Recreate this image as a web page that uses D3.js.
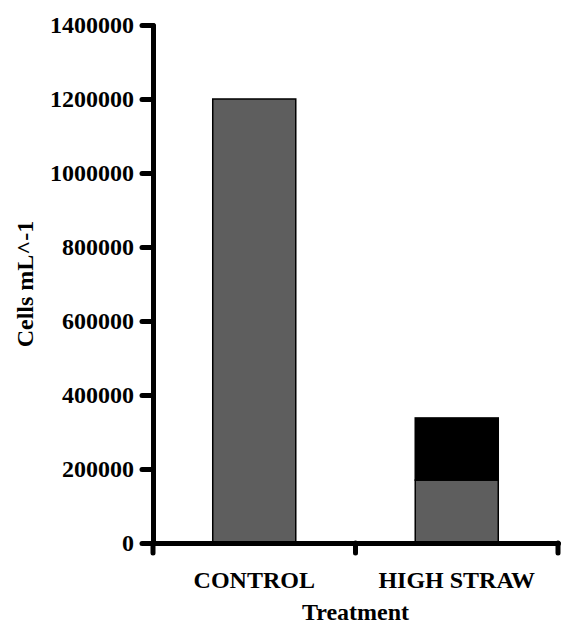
<!DOCTYPE html>
<html>
<head>
<meta charset="utf-8">
<script src="https://cdn.jsdelivr.net/npm/d3@7"></script>
<style>
  html, body { margin: 0; padding: 0; background: #fff; }
  svg { display: block; }
  text { font-family: "Liberation Serif", "Times New Roman", serif; font-weight: bold; fill: #000; }
</style>
</head>
<body>
<svg id="chart" width="563" height="631"></svg>
<script>
// Cell counts per treatment, stacked in two parts
const categories = ["CONTROL", "HIGH STRAW"];
const lowerSegment = [1200000, 170000];
const upperSegment = [0, 168000];
const yTicks = [0, 200000, 400000, 600000, 800000, 1000000, 1200000, 1400000];
const yTitle = "Cells mL^-1";
const xTitle = "Treatment";

const svg = d3.select("#chart");
const plotLeft = 153, plotRight = 558, plotTop = 25, plotBottom = 543;

const x = d3.scaleBand().domain(categories).range([plotLeft, plotRight])
  .paddingInner(0.59).paddingOuter(0.295);
const y = d3.scaleLinear().domain([0, 1400000]).range([plotBottom, plotTop]);

const rows = categories.map((c, i) => ({ cat: c, lower: lowerSegment[i], upper: upperSegment[i] }));
const stack = d3.stack().keys(["lower", "upper"]);
const layers = stack(rows);
const fills = { lower: "#5e5e5e", upper: "#000000" };

svg.append("g").selectAll("g").data(layers).join("g")
  .attr("fill", d => fills[d.key])
  .selectAll("rect").data(d => d.filter(p => p[1] > p[0])).join("rect")
    .attr("x", d => x(d.data.cat))
    .attr("width", x.bandwidth())
    .attr("y", d => y(d[1]))
    .attr("height", d => y(d[0]) - y(d[1]))
    .attr("stroke", "#000")
    .attr("stroke-width", 1.5);

// Y axis
const yAxis = svg.append("g").attr("transform", `translate(${plotLeft},0)`)
  .call(d3.axisLeft(y).tickValues(yTicks).tickFormat(d3.format("d")).tickSize(11).tickSizeOuter(0).tickPadding(8));
yAxis.select(".domain").attr("stroke-width", 5).attr("stroke-linecap", "round");
yAxis.selectAll(".tick line").attr("stroke-width", 5).attr("stroke-linecap", "round");
yAxis.selectAll(".tick text").attr("font-size", 24)
  .style("font-family", "'Liberation Serif', 'Times New Roman', serif").style("font-weight", "bold");

// X axis: baseline with boundary ticks, category labels at band centres
const xAxis = svg.append("g").attr("transform", `translate(0,${plotBottom})`)
  .call(d3.axisBottom(x).tickSize(0).tickPadding(28).tickSizeOuter(0));
xAxis.select(".domain").attr("stroke-width", 5).attr("stroke-linecap", "round");
xAxis.selectAll(".tick text").attr("font-size", 24)
  .style("font-family", "'Liberation Serif', 'Times New Roman', serif").style("font-weight", "bold");

const step = x.step();
const bounds = [x.range()[0]].concat(categories.map(c => x(c) - x.paddingOuter() * step + step));
xAxis.selectAll("line.bound").data(bounds).join("line")
  .attr("class", "bound")
  .attr("x1", d => d).attr("x2", d => d)
  .attr("y1", 0).attr("y2", 10)
  .attr("stroke", "#000").attr("stroke-width", 5).attr("stroke-linecap", "round");

// Titles
svg.append("text")
  .attr("x", (plotLeft + plotRight) / 2).attr("y", 620)
  .attr("text-anchor", "middle").attr("font-size", 24)
  .text(xTitle);

svg.append("text")
  .attr("transform", `translate(33,${(plotTop + plotBottom) / 2}) rotate(-90)`)
  .attr("text-anchor", "middle").attr("font-size", 24)
  .text(yTitle);
</script>
</body>
</html>
